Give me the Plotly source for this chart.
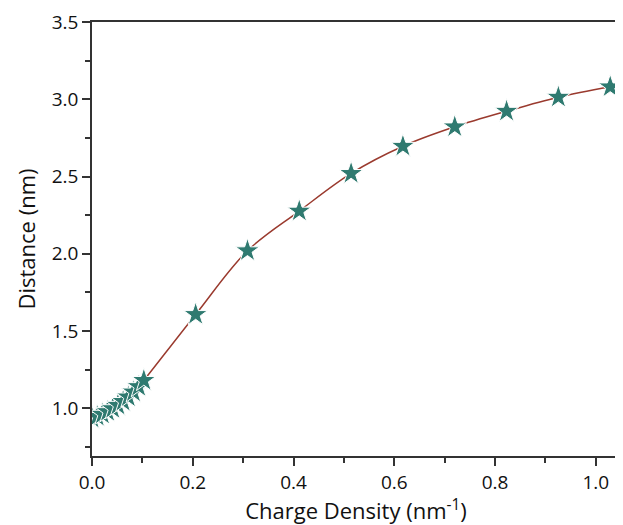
import plotly.graph_objects as go

# charge density (nm^-1) and distance (nm)
charge_density = [0.0, 0.0103, 0.0206, 0.0309, 0.0411, 0.0514, 0.0617, 0.072, 0.0823, 0.0926, 0.1029,
                  0.2057, 0.3086, 0.4114, 0.5143, 0.6171, 0.72, 0.8229, 0.9257, 1.0286]
distance = [0.935, 0.947, 0.961, 0.978, 0.997, 1.019, 1.044, 1.073, 1.105, 1.14, 1.18,
            1.607, 2.02, 2.277, 2.521, 2.697, 2.823, 2.924, 3.015, 3.082]

x_ticks = [0.0, 0.2, 0.4, 0.6, 0.8, 1.0]
y_ticks = [1.0, 1.5, 2.0, 2.5, 3.0, 3.5]

font = "Open Sans"

fig = go.Figure()
fig.add_trace(go.Scatter(
    x=charge_density, y=distance, mode="lines+markers",
    line=dict(color="#9a3a2e", width=1.5, shape="spline"),
    marker=dict(symbol="star", size=18, color="#2f7a70",
                line=dict(color="white", width=1)),
    showlegend=False))

axis_common = dict(
    showline=True, linecolor="#333", linewidth=1.5, mirror=True,
    ticks="outside", ticklen=8, tickwidth=1.5, tickcolor="#333",
    showgrid=False, zeroline=False, ticklabeloverflow="allow",
    tickfont=dict(family=font, size=19, color="#111"),
)

fig.update_xaxes(
    range=[0, 1.048], tickvals=x_ticks, ticktext=["%.1f" % v for v in x_ticks],
    minor=dict(ticks="outside", ticklen=5, tickwidth=1.5, tickcolor="#333", dtick=0.1, tick0=0),
    title=dict(text="Charge Density (nm<sup>-1</sup>)", font=dict(family=font, size=22, color="#111"),
               standoff=6),
    **axis_common)
fig.update_yaxes(
    range=[0.69, 3.502], tickvals=y_ticks, ticktext=["%.1f" % v for v in y_ticks],
    minor=dict(ticks="outside", ticklen=5, tickwidth=1.5, tickcolor="#333", dtick=0.25, tick0=0),
    title=dict(text="Distance (nm)", font=dict(family=font, size=22, color="#111"), standoff=10),
    **axis_common)

# the page puts the figure 8 px in from the top-left, so size and margins allow for that
fig.update_layout(
    width=615, height=517,
    margin=dict(l=84, r=1, t=10, b=69),
    plot_bgcolor="white", paper_bgcolor="white",
)

fig.write_html("out.html")
